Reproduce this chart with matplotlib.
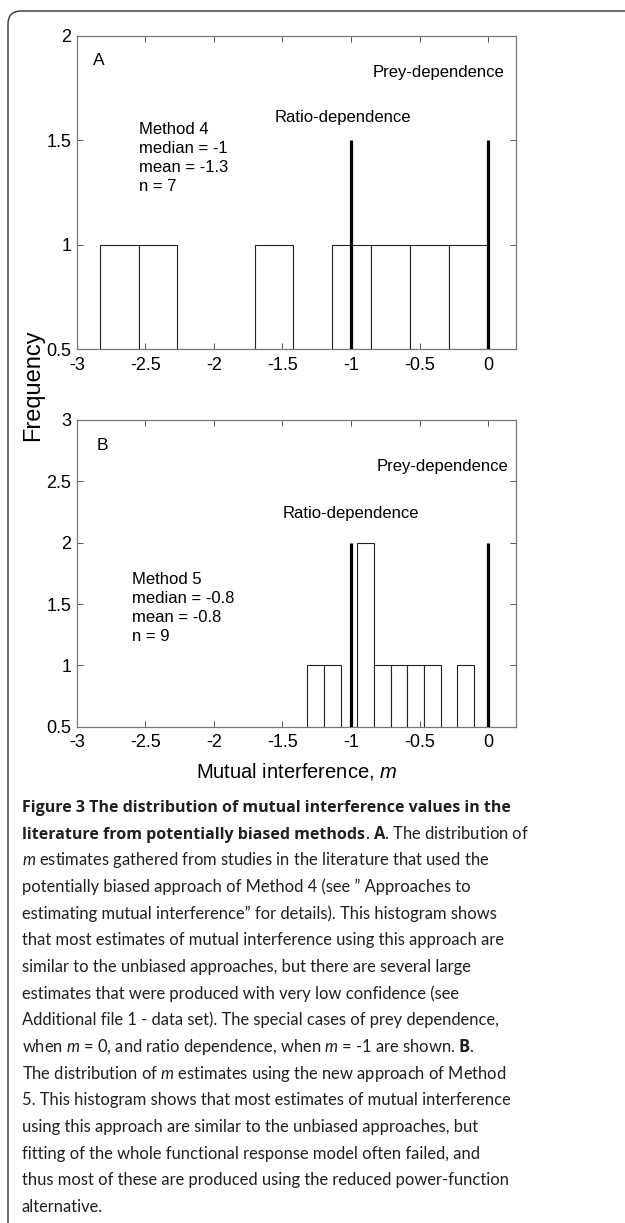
import matplotlib
matplotlib.use("Agg")
import matplotlib.pyplot as plt
from matplotlib.patches import FancyBboxPatch

# histogram data
bins_a = [-2.690, -2.408, -2.126, -1.843, -1.561, -1.278, -0.996, -0.713, -0.431, -0.148]
counts_a = [1, 1, 0, 0, 1, 0, 1, 1, 1, 1]
width_a = 0.2825

bins_b = [-1.258, -1.137, -1.015, -0.894, -0.772, -0.651, -0.529, -0.408, -0.286, -0.165]
counts_b = [1, 1, 0, 2, 1, 1, 1, 1, 0, 1]
width_b = 0.1215

special_m = [-1, 0]          # ratio- and prey-dependence
xticks = [-3, -2.5, -2, -1.5, -1, -0.5, 0]
xticklabels = ["-3", "-2.5", "-2", "-1.5", "-1", "-0.5", "0"]
yticks_a = [0.5, 1, 1.5, 2]
yticklabels_a = ["0.5", "1", "1.5", "2"]
yticks_b = [0.5, 1, 1.5, 2, 2.5, 3]
yticklabels_b = ["0.5", "1", "1.5", "2", "2.5", "3"]

stats_a = "Method 4\nmedian = -1\nmean = -1.3\nn = 7"
stats_b = "Method 5\nmedian = -0.8\nmean = -0.8\nn = 9"

# caption: bold title lines, then the body (mathtext for italic m / bold letters)
title_lines = [
    ("Figure 3 The distribution of mutual interference values in the", ""),
    ("literature from potentially biased methods", r". $\mathbf{A}$. The distribution of"),
]
body_lines = [
    r"$\mathit{m}$ estimates gathered from studies in the literature that used the",
    "potentially biased approach of Method 4 (see \u201d Approaches to",
    "estimating mutual interference\u201d for details). This histogram shows",
    "that most estimates of mutual interference using this approach are",
    "similar to the unbiased approaches, but there are several large",
    "estimates that were produced with very low confidence (see",
    "Additional file 1 - data set). The special cases of prey dependence,",
    r"when $\mathit{m}$ = 0, and ratio dependence, when $\mathit{m}$ = -1 are shown. $\mathbf{B}$.",
    r"The distribution of $\mathit{m}$ estimates using the new approach of Method",
    "5. This histogram shows that most estimates of mutual interference",
    "using this approach are similar to the unbiased approaches, but",
    "fitting of the whole functional response model often failed, and",
    "thus most of these are produced using the reduced power-function",
    "alternative.",
]

cap_font = "Lato"
plt.rcParams["font.family"] = "Liberation Sans"
plt.rcParams["mathtext.fontset"] = "custom"
plt.rcParams["mathtext.rm"] = cap_font
plt.rcParams["mathtext.it"] = cap_font + ":italic"
plt.rcParams["mathtext.bf"] = "Open Sans:bold"
plt.rcParams["mathtext.sf"] = "Liberation Sans:italic"

W, H = 625, 1223
fig = plt.figure(figsize=(W / 100, H / 100), dpi=100)

ax_a = fig.add_axes([76.7 / W, 1 - 349.3 / H, 439 / W, 313.3 / H])
ax_b = fig.add_axes([76.7 / W, 1 - 726.7 / H, 439 / W, 306.7 / H])


def style_axes(ax, yticks, yticklabels, ylim):
    ax.set_xlim(-3, 0.2)
    ax.set_ylim(*ylim)
    ax.set_xticks(xticks)
    ax.set_xticklabels(xticklabels)
    ax.set_yticks(yticks)
    ax.set_yticklabels(yticklabels)
    ax.tick_params(direction="in", top=True, right=True, length=4,
                   width=0.7, color="#555555", labelsize=13)
    ax.tick_params(axis="x", pad=5.5)
    ax.tick_params(axis="y", pad=4)
    for s in ax.spines.values():
        s.set_color("#777777")
        s.set_linewidth(0.9)


ax_a.bar(bins_a, counts_a, width=width_a, color="white", edgecolor="#222222", linewidth=0.8)
ax_a.vlines(special_m, 0.5, 1.5, color="black", linewidth=2.3, zorder=3)
style_axes(ax_a, yticks_a, yticklabels_a, (0.5, 2))
ax_a.text(-2.885, 1.885, "A", fontsize=12.5, va="center")
ax_a.text(-0.843, 1.824, "Prey-dependence", fontsize=12, va="center")
ax_a.text(-1.554, 1.612, "Ratio-dependence", fontsize=12, va="center")
ax_a.text(-2.544, 1.418, stats_a, fontsize=12, va="center", linespacing=1.33)

ax_b.bar(bins_b, counts_b, width=width_b, color="white", edgecolor="#222222", linewidth=0.8)
ax_b.vlines(special_m, 0.5, 2, color="black", linewidth=2.3, zorder=3)
style_axes(ax_b, yticks_b, yticklabels_b, (0.5, 3))
ax_b.text(-2.856, 2.796, "B", fontsize=12.5, va="center")
ax_b.text(-0.813, 2.62, "Prey-dependence", fontsize=12, va="center")
ax_b.text(-1.499, 2.239, "Ratio-dependence", fontsize=12, va="center")
ax_b.text(-2.595, 1.469, stats_b, fontsize=12, va="center", linespacing=1.33)

fig.text(33 / W, 1 - 385 / H, "Frequency", rotation=90, fontsize=17,
         ha="center", va="center")
fig.text(296.2 / W, 1 - 771.7 / H, r"Mutual interference, $\mathsf{m}$", fontsize=14.5,
         ha="center", va="center")

# frame and caption on an overlay in pixel units
over = fig.add_axes([0, 0, 1, 1], zorder=-1)
over.set_xlim(0, W)
over.set_ylim(H, 0)
over.axis("off")
over.add_patch(FancyBboxPatch((8, 11), 700, 1300,
                              boxstyle="round,pad=0,rounding_size=13",
                              fc="none", ec="#333333", lw=1.0))

cap_color = "#231f20"
x0, y0, dy = 21.7, 812, 26.67
for i, (bold, rest) in enumerate(title_lines):
    y = y0 + i * dy
    t = over.text(x0, y, bold, fontsize=11.5, family="Open Sans", weight="bold",
                  color=cap_color, va="baseline", ha="left")
    if rest:
        over.annotate(rest, xy=(1, y), xycoords=(t, "data"), fontsize=11.9,
                      family=cap_font, color=cap_color, va="baseline", ha="left")

for i, line in enumerate(body_lines):
    over.text(x0, y0 + (i + len(title_lines)) * dy, line, fontsize=11.9,
              family=cap_font, color=cap_color, va="baseline", ha="left")

fig.savefig("out.png", dpi=100)
